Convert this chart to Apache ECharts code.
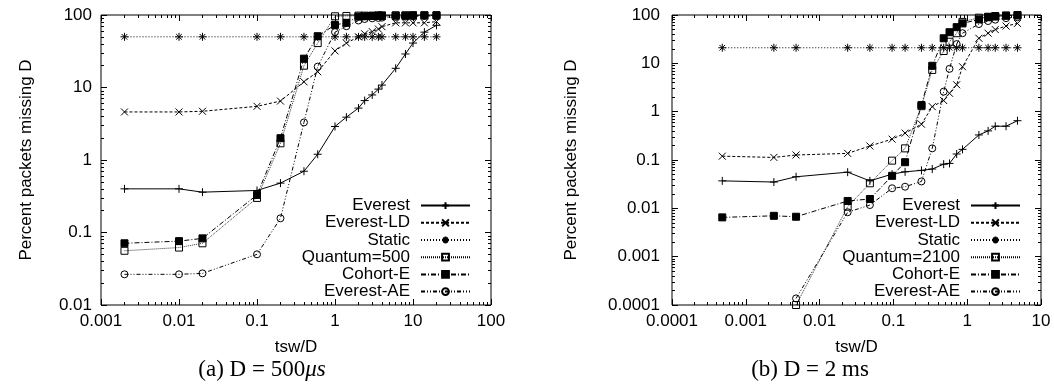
<!DOCTYPE html>
<html><head><meta charset="utf-8">
<script src="https://cdn.jsdelivr.net/npm/echarts@6/dist/echarts.min.js"></script>
<style>html,body{margin:0;padding:0;background:#fff}#c{width:1054px;height:385px}</style>
</head><body><div id="c"></div>
<script>
// ---------- DATA ----------
// Panel (a): D = 500us
const xA = [0.002, 0.01, 0.02, 0.1, 0.2, 0.4, 0.6, 1, 1.4, 2, 2.4, 3, 3.6, 4, 6, 8, 10, 14, 20];
const aEverest   = [0.40, 0.40, 0.36, 0.38, 0.48, 0.70, 1.2, 2.9, 3.9, 5.2, 6.6, 7.9, 9.5, 10.8, 18.4, 29, 41, 58, 72];
const aEverestLD = [4.6, 4.6, 4.7, 5.5, 6.5, 12, 16.5, 32, 41, 50, 55, 59, 64, 69, 78, 78, 78, 78, 81];
const aStatic    = [50, 50, 50, 50, 50, 50, 50, 50, 50, 50, 50, 50, 50, 50, 50, 50, 50, 50, 50];
const aQuantum   = [0.056, 0.062, 0.071, 0.30, 1.7, 20, 41, 96, 97, 98, 98, 98, 99, 99, 99, 99, 99, 99, 99];
const aCohortE   = [0.071, 0.076, 0.083, 0.33, 2.0, 25, 51, 73, 78, 95, 96, 97, 97, 97, 98, 98, 99, 99, 99];
const aEverestAE = [0.0265, 0.0265, 0.0273, 0.050, 0.157, 3.3, 19.4, 58, 70, 84, 88, 90, 91, 92, 94, 95, 96, 97, 97];
// Panel (b): D = 2 ms
const xB = [0.00048, 0.0024, 0.0048, 0.024, 0.048, 0.096, 0.144, 0.24, 0.336, 0.48, 0.576, 0.72, 0.864, 1.44, 1.92, 2.4, 3.36, 4.8];
const bEverest   = [0.037, 0.035, 0.045, 0.056, 0.037, 0.051, 0.057, 0.061, 0.065, 0.082, 0.085, 0.133, 0.166, 0.33, 0.40, 0.50, 0.50, 0.65];
const bEverestLD = [0.12, 0.113, 0.127, 0.137, 0.195, 0.27, 0.36, 0.55, 1.27, 1.7, 2.4, 3.6, 8.5, 33, 42, 50, 59, 67];
const bStatic    = [21, 21, 21, 21, 21, 21, 21, 21, 21, 21, 21, 21, 21, 21, 21, 21, 21, 21];
const bQuantum   = [null, null, 0.0001, 0.0108, 0.033, 0.097, 0.174, 1.3, 7.3, 18, 28, 42, 72, 88, 90, 93, 97, 98];
const bCohortE   = [0.0065, 0.0070, 0.0067, 0.0142, 0.0156, 0.047, 0.090, 1.37, 8.9, 33, 44, 56, 67, 81, 92, 95, 97, 100];
const bEverestAE = [null, null, 0.000137, 0.0083, 0.0117, 0.026, 0.028, 0.036, 0.174, 2.6, 7.7, 25, 42, 65, 75, 80, 86, 90];
// Tick labels
const xTicksA = [0.001, 0.01, 0.1, 1, 10, 100];
const xLabelsA = ['0.001', '0.01', '0.1', '1', '10', '100'];
const yTicksA = [0.01, 0.1, 1, 10, 100];
const yLabelsA = ['0.01', '0.1', '1', '10', '100'];
const xTicksB = [0.0001, 0.001, 0.01, 0.1, 1, 10];
const xLabelsB = ['0.0001', '0.001', '0.01', '0.1', '1', '10'];
const yTicksB = [0.0001, 0.001, 0.01, 0.1, 1, 10, 100];
const yLabelsB = ['0.0001', '0.001', '0.01', '0.1', '1', '10', '100'];
const namesA = ['Everest', 'Everest-LD', 'Static', 'Quantum=500', 'Cohort-E', 'Everest-AE'];
const namesB = ['Everest', 'Everest-LD', 'Static', 'Quantum=2100', 'Cohort-E', 'Everest-AE'];
const xName = 'tsw/D';
const yName = 'Percent packets missing D';

// ---------- STYLE ----------
const SANS = 'Liberation Sans';
const FS = 17;
const styles = [
  { symbol: 'path://M0,5L10,5M5,0L5,10', size: 8, fill: 'rgba(0,0,0,0)', dash: 'solid', width: 1 },
  { symbol: 'path://M0,0L10,10M10,0L0,10', size: 7, fill: 'rgba(0,0,0,0)', dash: [3, 2], width: 1 },
  { symbol: 'path://M0,5L10,5M5,0L5,10M1.5,1.5L8.5,8.5M8.5,1.5L1.5,8.5', size: 8, fill: 'rgba(0,0,0,0)', dash: [1, 2], width: 1 },
  { symbol: 'rect', size: 7, fill: 'rgba(0,0,0,0)', dash: [1, 1], width: 0.8 },
  { symbol: 'rect', size: 7, fill: '#000', dash: [5, 2, 1, 2], width: 1 },
  { symbol: 'circle', size: 7, fill: 'rgba(0,0,0,0)', dash: [4, 2, 1, 2, 1, 2], width: 1 }
];

function pairs(xs, ys) {
  const out = [];
  xs.forEach((x, i) => { if (ys[i] != null) out.push([x, ys[i]]); });
  return out;
}
function minorOf(ticks) {
  const out = [];
  for (let i = 0; i < ticks.length - 1; i++) for (let k = 2; k <= 9; k++) out.push(k * ticks[i]);
  return out;
}
function fmt(v, ticks, labels) {
  let best = 0, bd = Infinity;
  ticks.forEach((t, i) => { const d = Math.abs(Math.log10(t) - Math.log10(v)); if (d < bd) { bd = d; best = i; } });
  return labels[best];
}
function axisSet(gi, ticks, labels, isX, name, nameGap, labelMargin) {
  const base = { type: 'log', logBase: 10, gridIndex: gi, min: ticks[0], max: ticks[ticks.length - 1],
    splitLine: { show: false }, axisLine: { show: false, onZero: false }, axisPointer: { show: false } };
  const minor = minorOf(ticks);
  const p1 = isX ? 'bottom' : 'left', p2 = isX ? 'top' : 'right';
  const tick = (vals, len) => ({ show: true, inside: true, length: len, customValues: vals, lineStyle: { color: '#000', width: 1 } });
  return [
    Object.assign({}, base, { position: p1, axisTick: tick(ticks, 6),
      axisLabel: { show: true, customValues: ticks, formatter: v => fmt(v, ticks, labels), margin: labelMargin,
        color: '#000', fontSize: FS, fontFamily: SANS },
      name: name, nameLocation: 'middle', nameGap: nameGap, nameRotate: isX ? 0 : 90,
      nameTextStyle: { color: '#000', fontSize: FS, fontFamily: SANS } }),
    Object.assign({}, base, { position: p2, axisTick: tick(ticks, 6), axisLabel: { show: false } }),
    Object.assign({}, base, { position: p1, axisTick: tick(minor, 3), axisLabel: { show: false } }),
    Object.assign({}, base, { position: p2, axisTick: tick(minor, 3), axisLabel: { show: false } })
  ];
}
function makeSeries(names, xs, ysList, xi, yi) {
  return names.map((n, k) => ({
    type: 'line', name: n, xAxisIndex: xi, yAxisIndex: yi,
    data: pairs(xs, ysList[k]),
    symbol: styles[k].symbol, symbolSize: styles[k].size, showSymbol: true,
    itemStyle: { color: styles[k].fill, borderColor: '#000', borderWidth: 1 },
    lineStyle: { color: '#000', width: styles[k].width, type: styles[k].dash },
    emphasis: { disabled: true }, silent: true, animation: false, z: 2 + k
  }));
}
const legendBase = {
  orient: 'vertical', align: 'right', itemWidth: 49, itemHeight: 8.5, itemGap: 0,
  selectedMode: false, padding: 0,
  textStyle: { color: '#000', fontSize: FS, fontFamily: SANS, lineHeight: 17.2, padding: [0, 6, 0, 0] }
};

const option = {
  backgroundColor: '#fff',
  animation: false,
  grid: [
    { left: 101, top: 15, width: 390, height: 290, show: true, borderColor: '#000', borderWidth: 1, containLabel: false },
    { left: 672, top: 15, width: 369, height: 290, show: true, borderColor: '#000', borderWidth: 1, containLabel: false }
  ],
  xAxis: [].concat(
    axisSet(0, xTicksA, xLabelsA, true, xName, 34, 8),
    axisSet(1, xTicksB, xLabelsB, true, xName, 34, 8)
  ),
  yAxis: [].concat(
    axisSet(0, yTicksA, yLabelsA, false, yName, 66, 9),
    axisSet(1, yTicksB, yLabelsB, false, yName, 92, 12)
  ),
  legend: [
    Object.assign({}, legendBase, { data: namesA, right: 583, top: 197 }),
    Object.assign({}, legendBase, { data: namesB, right: 33, top: 197 })
  ],
  series: [].concat(
    makeSeries(namesA, xA, [aEverest, aEverestLD, aStatic, aQuantum, aCohortE, aEverestAE], 0, 0),
    makeSeries(namesB, xB, [bEverest, bEverestLD, bStatic, bQuantum, bCohortE, bEverestAE], 4, 4)
  ),
  graphic: [
    { type: 'text', x: 262, y: 370, style: { text: '{n|(a) D = 500}{i|μs}', align: 'center', verticalAlign: 'middle',
      rich: { n: { fontFamily: 'Liberation Serif', fontSize: 23, fill: '#000' }, i: { fontFamily: 'Liberation Serif', fontSize: 23, fontStyle: 'italic', fill: '#000' } } } },
    { type: 'text', x: 810, y: 370, style: { text: '(b) D = 2 ms', align: 'center', verticalAlign: 'middle',
      fontFamily: 'Liberation Serif', fontSize: 23, fill: '#000' } }
  ]
};
const chart = echarts.init(document.getElementById('c'), null, { renderer: 'canvas' });
chart.setOption(option);
</script>
</body></html>
